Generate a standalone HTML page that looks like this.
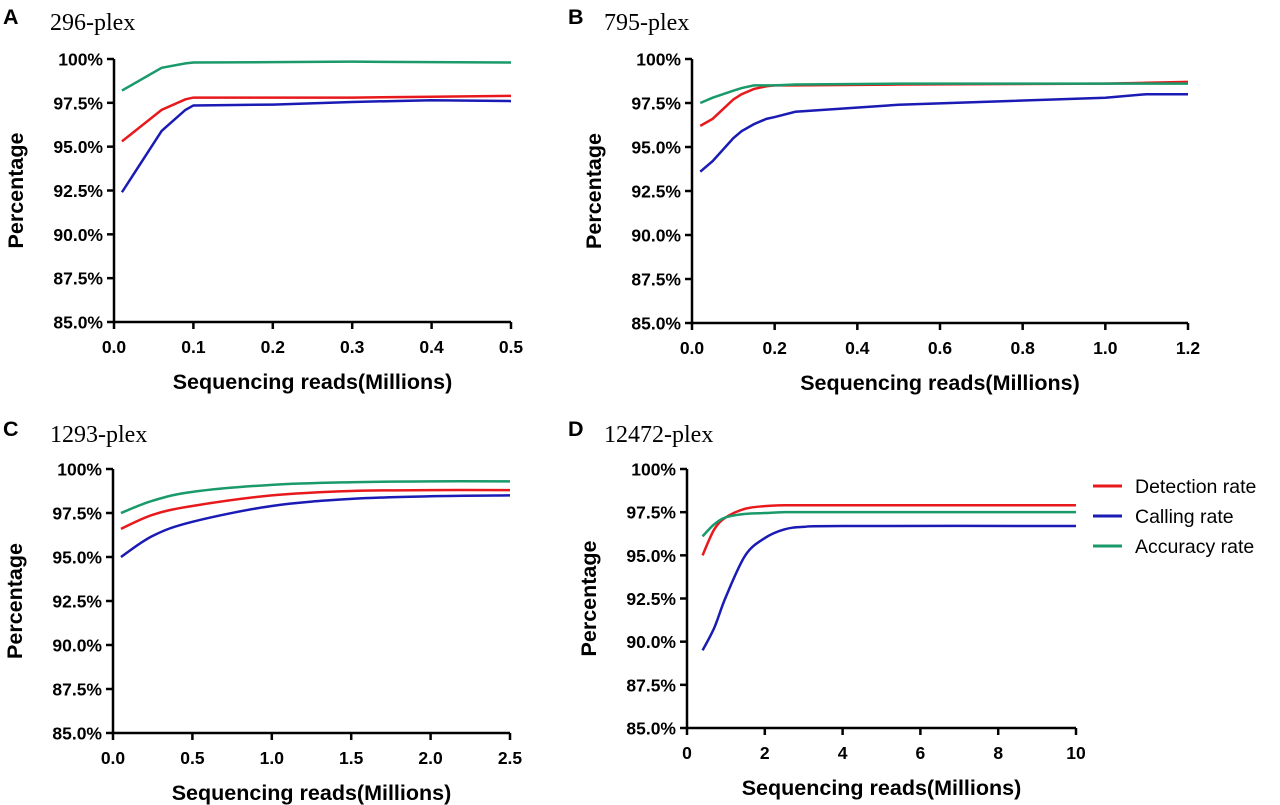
<!DOCTYPE html>
<html><head><meta charset="utf-8"><style>
body{margin:0;background:#fff}
svg{display:block}
.t{font-family:"Liberation Sans",Arial,sans-serif;font-weight:bold;font-size:17.5px;fill:#000}
.ti{font-family:"Liberation Serif",serif;font-size:24px;fill:#000}
.lab{font-family:"Liberation Sans",Arial,sans-serif;font-weight:bold;font-size:21.5px;fill:#000}
.lg{font-family:"Liberation Sans",Arial,sans-serif;font-size:19.5px;fill:#000}
</style></head><body>
<svg id="fig" width="1280" height="805"></svg>
<script>
const colors=["#e8191c","#1a1ab4","#1a9a6a"];
const seriesNames=["Detection rate","Calling rate","Accuracy rate"];
const yTicks=[85,87.5,90,92.5,95,97.5,100];
const yTickLabels=["85.0%","87.5%","90.0%","92.5%","95.0%","97.5%","100%"];
// Panel A
const aX=[0.01,0.06,0.09,0.1,0.2,0.3,0.4,0.5];
const aDet=[95.3,97.1,97.7,97.8,97.8,97.8,97.85,97.9];
const aCall=[92.4,95.9,97.1,97.35,97.4,97.55,97.65,97.6];
const aAcc=[98.2,99.5,99.75,99.8,99.82,99.85,99.82,99.8];
const aTicks=[0,0.1,0.2,0.3,0.4,0.5];
const aTickLabels=["0.0","0.1","0.2","0.3","0.4","0.5"];
// Panel B
const bX=[0.02,0.05,0.1,0.12,0.15,0.18,0.2,0.25,0.5,1.0,1.1,1.2];
const bDet=[96.2,96.6,97.7,98.0,98.3,98.45,98.5,98.5,98.55,98.6,98.65,98.7];
const bCall=[93.6,94.2,95.5,95.9,96.3,96.6,96.7,97.0,97.4,97.8,98.0,98.0];
const bAcc=[97.5,97.8,98.2,98.35,98.5,98.5,98.5,98.55,98.6,98.6,98.6,98.6];
const bTicks=[0,0.2,0.4,0.6,0.8,1.0,1.2];
const bTickLabels=["0.0","0.2","0.4","0.6","0.8","1.0","1.2"];
// Panel C
const cX=[0.05,0.25,0.5,1.0,1.5,2.0,2.5];
const cDet=[96.6,97.4,97.9,98.5,98.75,98.8,98.8];
const cCall=[95.0,96.2,97.0,97.9,98.3,98.45,98.5];
const cAcc=[97.5,98.2,98.7,99.1,99.25,99.3,99.3];
const cTicks=[0,0.5,1.0,1.5,2.0,2.5];
const cTickLabels=["0.0","0.5","1.0","1.5","2.0","2.5"];
// Panel D
const dX=[0.4,0.7,1.0,1.5,2.0,2.5,3.0,4.0,10];
const dDet=[95.0,96.5,97.2,97.7,97.85,97.9,97.9,97.9,97.9];
const dCall=[89.5,90.8,92.6,95.0,96.0,96.5,96.65,96.7,96.7];
const dAcc=[96.1,96.8,97.2,97.4,97.45,97.5,97.5,97.5,97.5];
const dTicks=[0,2,4,6,8,10];
const dTickLabels=["0","2","4","6","8","10"];

const NS="http://www.w3.org/2000/svg";
const svg=document.getElementById('fig');
function mk(tag,attrs,parent,text){const e=document.createElementNS(NS,tag);for(const k in attrs)e.setAttribute(k,attrs[k]);if(text!==undefined)e.textContent=text;(parent||svg).appendChild(e);return e;}
function smoothPath(pts){let d="M"+pts[0][0]+","+pts[0][1];for(let i=0;i<pts.length-1;i++){const p0=pts[i-1]||pts[i],p1=pts[i],p2=pts[i+1],p3=pts[i+2]||p2;const c1=[p1[0]+(p2[0]-p0[0])/6,p1[1]+(p2[1]-p0[1])/6];const c2=[p2[0]-(p3[0]-p1[0])/6,p2[1]-(p3[1]-p1[1])/6];d+=` C${c1[0]},${c1[1]} ${c2[0]},${c2[1]} ${p2[0]},${p2[1]}`;}return d;}
function panel(cfg){
  const g=mk('g',{});
  
  
  const sx=v=>cfg.x0+(v-cfg.xmin)/(cfg.xmax-cfg.xmin)*(cfg.x1-cfg.x0);
  const sy=v=>cfg.yb+(v-85)/15*(cfg.yt-cfg.yb);
  const L=mk('text',{x:cfg.lx,y:cfg.ly+4,class:'lab','font-size':'24'},g,cfg.id.toUpperCase());
  
  const T=mk('text',{x:cfg.tx,y:cfg.ly+10,class:'ti'},g,cfg.title);
  
  const ax=mk('path',{d:`M${cfg.x0},${cfg.yt} V${cfg.yb} H${cfg.x1}`,stroke:'#000','stroke-width':2.5,fill:'none'},g);
  
  yTicks.forEach((v,i)=>{const y=sy(v);
    mk('line',{x1:cfg.x0-7,x2:cfg.x0,y1:y,y2:y,stroke:'#000','stroke-width':2.5},g);
    const t=mk('text',{x:cfg.x0-11,y:y+6.5,class:'t','text-anchor':'end'},g,yTickLabels[i]);
    });
  cfg.ticks.forEach((v,i)=>{const x=sx(v);
    mk('line',{x1:x,x2:x,y1:cfg.yb,y2:cfg.yb+7,stroke:'#000','stroke-width':2.5},g);
    const t=mk('text',{x:x,y:cfg.yb+31,class:'t','text-anchor':'middle','font-size':'18.5'},g,cfg.labels[i]);
    });
  const yl=mk('text',{x:0,y:0,class:'lab','text-anchor':'middle',transform:`translate(${cfg.x0-91},${(cfg.yt+cfg.yb)/2}) rotate(-90)`},g,'Percentage');
  
  const xl=mk('text',{x:(cfg.x0+cfg.x1)/2,y:cfg.yb+67,class:'lab','text-anchor':'middle'},g,'Sequencing reads(Millions)');
  
  cfg.series.forEach((s,k)=>{const pts=cfg.xs.map((x,i)=>[sx(x),sy(s[i])]);
    const d=cfg.smooth?smoothPath(pts):"M"+pts.map(p=>p.join(",")).join(" L");
    const p=mk('path',{d:d,stroke:colors[k],'stroke-width':2.5,fill:'none'},g);
    
    });
}
panel({id:'a',title:'296-plex',lx:3,tx:50,ly:20,x0:114,x1:511,xmin:0,xmax:0.5,yt:59,yb:322,xs:aX,series:[aDet,aCall,aAcc],ticks:aTicks,labels:aTickLabels,smooth:false});
panel({id:'b',title:'795-plex',lx:568,tx:604,ly:20,x0:692,x1:1188,xmin:0,xmax:1.2,yt:59,yb:323,xs:bX,series:[bDet,bCall,bAcc],ticks:bTicks,labels:bTickLabels,smooth:false});
panel({id:'c',title:'1293-plex',lx:3,tx:50,ly:432,x0:113,x1:510,xmin:0,xmax:2.5,yt:469,yb:733,xs:cX,series:[cDet,cCall,cAcc],ticks:cTicks,labels:cTickLabels,smooth:true});
panel({id:'d',title:'12472-plex',lx:568,tx:604,ly:432,x0:687,x1:1076,xmin:0,xmax:10,yt:469,yb:728,xs:dX,series:[dDet,dCall,dAcc],ticks:dTicks,labels:dTickLabels,smooth:true});
const lg=mk('g',{});

seriesNames.forEach((n,k)=>{const y=486+k*30;
  mk('line',{x1:1093,x2:1122,y1:y,y2:y,stroke:colors[k],'stroke-width':3},lg);
  const t=mk('text',{x:1135,y:y+7,class:'lg'},lg,n);
  });
</script>
</body></html>
